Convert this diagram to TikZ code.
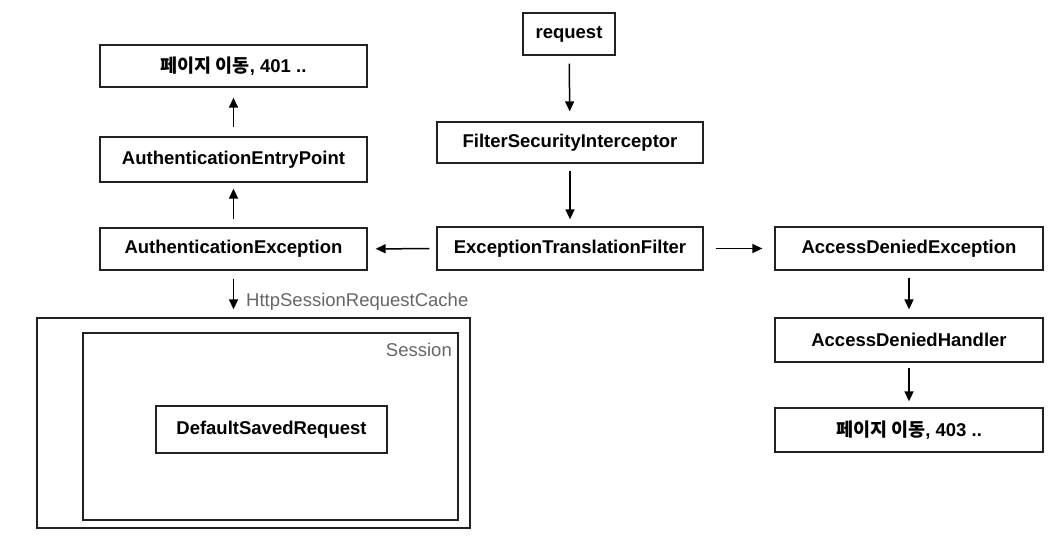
\documentclass[tikz,border=0pt]{standalone}
\usepackage{fontspec}
\setmainfont{Liberation Sans}
\newfontfamily\kr{Noto Sans CJK KR}
\usetikzlibrary{arrows.meta}
\definecolor{labgray}{HTML}{666666}
\definecolor{edge}{HTML}{222222}
\tikzset{
  box/.style={draw=edge, line width=1.3pt, fill=white, inner sep=0pt,
    font=\fontsize{18.5}{20}\selectfont\bfseries},
  frame/.style={draw=edge, line width=1.4pt, inner sep=0pt},
  arr/.style={line width=1.5pt, -{Triangle[length=10pt,width=9pt]}},
  lab/.style={text=labgray, font=\fontsize{18.5}{20}\selectfont, inner sep=0pt}
}
\begin{document}
\begin{tikzpicture}[x=1pt,y=-1pt]
\useasboundingbox (0,0) rectangle (1063,548);
% left column
\node[box, minimum width=267pt, minimum height=42pt] (p401) at (233.5,66) {{\kr\bfseries 페이지 이동}, 401 ..};
\node[box, minimum width=267pt, minimum height=45pt] (aep) at (233.5,159.5) {AuthenticationEntryPoint};
\node[box, minimum width=267pt, minimum height=42pt] (aex) at (233.5,249) {AuthenticationException};
% centre column
\node[box, minimum width=92pt, minimum height=42pt] (req) at (569,34) {request};
\node[box, minimum width=266pt, minimum height=41pt] (fsi) at (570,142.5) {FilterSecurityInterceptor};
\node[box, minimum width=266pt, minimum height=43pt] (etf) at (570,248.5) {ExceptionTranslationFilter};
% right column
\node[box, minimum width=268pt, minimum height=43pt] (ade) at (909,248.5) {AccessDeniedException};
\node[box, minimum width=268pt, minimum height=44pt] (adh) at (909,340) {AccessDeniedHandler};
\node[box, minimum width=268pt, minimum height=44pt] (p403) at (909,430) {{\kr\bfseries 페이지 이동}, 403 ..};
% session area
\node[frame, minimum width=433pt, minimum height=210pt] (outer) at (253.5,423) {};
\node[frame, minimum width=375pt, minimum height=187pt] (inner) at (270.5,426.5) {};
\node[lab, anchor=east] (sess) at (452,350) {Session};
\node[box, minimum width=231pt, minimum height=47pt] (dsr) at (271.5,429.5) {DefaultSavedRequest};
% arrows
\draw[arr, shorten <=8pt, shorten >=10pt] (req) -- (fsi);
\draw[arr, shorten <=7pt, shorten >=7pt] (fsi) -- (etf);
\draw[arr, shorten <=7pt, shorten >=8pt] (etf) -- (aex);
\draw[arr, shorten <=12pt, shorten >=12pt] (etf) -- (ade);
\draw[arr, shorten <=8pt, shorten >=6pt] (aex) -- (aep);
\draw[arr, shorten <=9pt, shorten >=10pt] (aep) -- (p401);
\draw[arr, shorten <=7pt, shorten >=8pt] (ade) -- (adh);
\draw[arr, shorten <=5pt, shorten >=6pt] (adh) -- (p403);
\coordinate (cachetop) at (outer.north -| aex.south);
\draw[arr, shorten <=8pt, shorten >=8pt] (aex.south) -- (cachetop);
\node[lab, anchor=west] (cache) at (246,302) {HttpSessionRequestCache};
\end{tikzpicture}
\end{document}
